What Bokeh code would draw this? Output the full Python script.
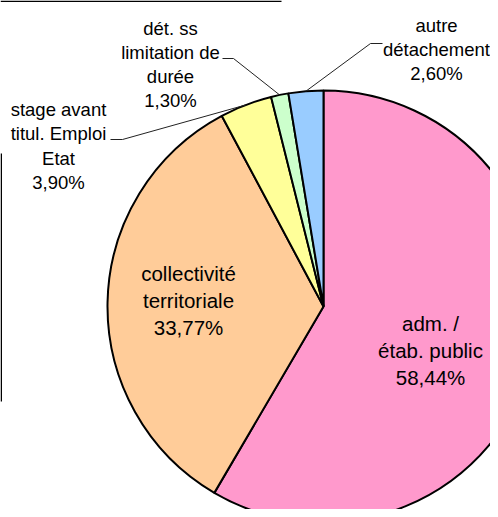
import math
from bokeh.plotting import figure
from bokeh.models import Range1d, ColumnDataSource
from bokeh.core.properties import value
from bokeh.embed import file_html
from bokeh.resources import INLINE

# ---- data ----
categories = ["adm. /\nétab. public", "collectivité\nterritoriale",
              "stage avant\ntitul. Emploi\nEtat", "dét. ss\nlimitation de\ndurée",
              "autre\ndétachement"]
shares = [58.44, 33.77, 3.90, 1.30, 2.60]
colors = ["#FF99CC", "#FFCC99", "#FFFF99", "#CCFFCC", "#99CCFF"]

# ---- layout (picture-pixel coordinates; data y = 517 - pixel y) ----
W, H = 490, 509
CX, CY, R = 323, 306, 216
def Y(py):
    return 517 - py

# label anchors: (center x, first baseline y, line spacing, font size)
label_layout = [
    (430, 323, 27, "20.5px"),
    (188, 273, 27, "20.5px"),
    (58, 109, 24.3, "18.5px"),
    (170, 28, 24, "18.5px"),
    (436, 25, 24, "18.5px"),
]
# leader line: (start point near label, elbow point) per outside label
leader_layout = {
    2: [(110, 139), (122, 139)],
    3: [(222, 58), (233, 58)],
    4: [(382, 43), (370, 43)],
}

p = figure(width=W, height=H, output_backend="svg", toolbar_location=None,
           x_range=Range1d(0, W), y_range=Range1d(Y(H), Y(0)),
           x_axis_location=None, y_axis_location=None, min_border=0,
           outline_line_color=None, background_fill_color="white",
           border_fill_color="white")
p.grid.visible = False

total = sum(shares)
starts, ends, mids = [], [], []
cum = 0.0
for s in shares:
    a0 = cum / total
    cum += s
    a1 = cum / total
    # clockwise from 12 o'clock
    starts.append(math.pi / 2 - 2 * math.pi * a1)
    ends.append(math.pi / 2 - 2 * math.pi * a0)
    mids.append(math.pi / 2 - 2 * math.pi * (a0 + a1) / 2)

src = ColumnDataSource(dict(start=starts, end=ends, color=colors))
p.wedge(x=CX, y=Y(CY), radius=R, start_angle="start", end_angle="end",
        direction="anticlock", fill_color="color", line_color="black",
        line_width=2, source=src)

# leader lines
for i, pts in leader_layout.items():
    ex = CX + R * math.cos(mids[i])
    ey = Y(CY) + R * math.sin(mids[i])
    xs = [pts[0][0], pts[1][0], ex]
    ys = [Y(pts[0][1]), Y(pts[1][1]), ey]
    p.line(xs, ys, line_color="#222222", line_width=1)

# labels
for i, (name, s) in enumerate(zip(categories, shares)):
    lx, ly, sp, fs = label_layout[i]
    lines = name.split("\n") + [f"{s:.2f}".replace(".", ",") + "%"]
    p.text(x=[lx] * len(lines), y=[Y(ly + k * sp) for k in range(len(lines))],
           text=lines, text_align="center", text_baseline="alphabetic",
           text_font=value("Liberation Sans"), text_font_size=fs,
           text_color="black")

# fragments of the original chart frame visible at the crop edges
p.line([0, 281], [Y(0.75), Y(0.75)], line_color="black", line_width=1.5)
p.line([0.75, 0.75], [Y(153), Y(401)], line_color="black", line_width=1.5)

open("out.html", "w").write(file_html(p, INLINE))
